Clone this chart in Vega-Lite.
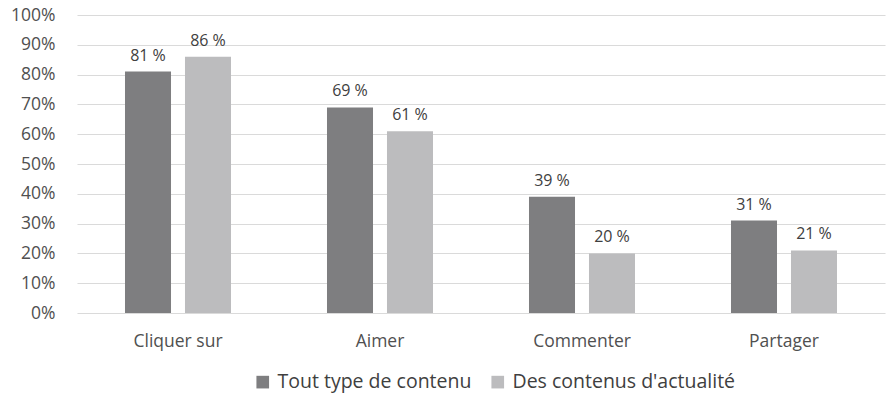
{
  "$schema": "https://vega.github.io/schema/vega-lite/v6.json",
  "autosize": "none",
  "width": 808,
  "height": 298,
  "padding": {"left": 77, "top": 15, "right": 7, "bottom": 93},
  "background": "white",
  "config": {"view": {"stroke": null}, "font": "Open Sans"},
  "data": {"values": [
    {"action": "Cliquer sur", "serie": "Tout type de contenu", "value": 81},
    {"action": "Cliquer sur", "serie": "Des contenus d'actualité", "value": 86},
    {"action": "Aimer", "serie": "Tout type de contenu", "value": 69},
    {"action": "Aimer", "serie": "Des contenus d'actualité", "value": 61},
    {"action": "Commenter", "serie": "Tout type de contenu", "value": 39},
    {"action": "Commenter", "serie": "Des contenus d'actualité", "value": 20},
    {"action": "Partager", "serie": "Tout type de contenu", "value": 31},
    {"action": "Partager", "serie": "Des contenus d'actualité", "value": 21}
  ]},
  "transform": [{"calculate": "datum.value + ' %'", "as": "label"}],
  "encoding": {
    "x": {"field": "action", "type": "nominal", "sort": null,
      "scale": {"paddingInner": 0, "paddingOuter": 0},
      "axis": {"title": null, "labelAngle": 0, "domain": false, "ticks": false, "labelPadding": 19, "labelFontSize": 17.5, "labelColor": "#505050", "grid": false}},
    "xOffset": {"field": "serie", "type": "nominal", "sort": ["Tout type de contenu", "Des contenus d'actualité"],
      "scale": {"paddingInner": 0.233, "paddingOuter": 0.8}},
    "y": {"field": "value", "type": "quantitative",
      "scale": {"domain": [0, 100]},
      "axis": {"title": null, "values": [0,10,20,30,40,50,60,70,80,90,100], "labelExpr": "datum.value + '%'", "domain": false, "ticks": false, "labelPadding": 22, "labelFontSize": 17.5, "labelColor": "#505050", "gridColor": "#dadada", "gridWidth": 1.2}}
  },
  "layer": [
    {"mark": {"type": "bar"},
     "encoding": {"color": {"field": "serie", "type": "nominal", "sort": ["Tout type de contenu", "Des contenus d'actualité"],
        "scale": {"range": ["#7e7e80", "#bcbcbe"]},
        "legend": {"title": null, "orient": "none", "legendX": 176, "legendY": 357, "direction": "horizontal", "symbolType": "square", "symbolSize": 160, "symbolStrokeWidth": 0, "labelFontSize": 19.5, "labelLimit": 400, "labelColor": "#404040", "columnPadding": 16, "labelOffset": 5}}}},
    {"mark": {"type": "text", "baseline": "bottom", "dy": -8, "fontSize": 16, "color": "#404040"},
     "encoding": {"text": {"field": "label"}}}
  ]
}
